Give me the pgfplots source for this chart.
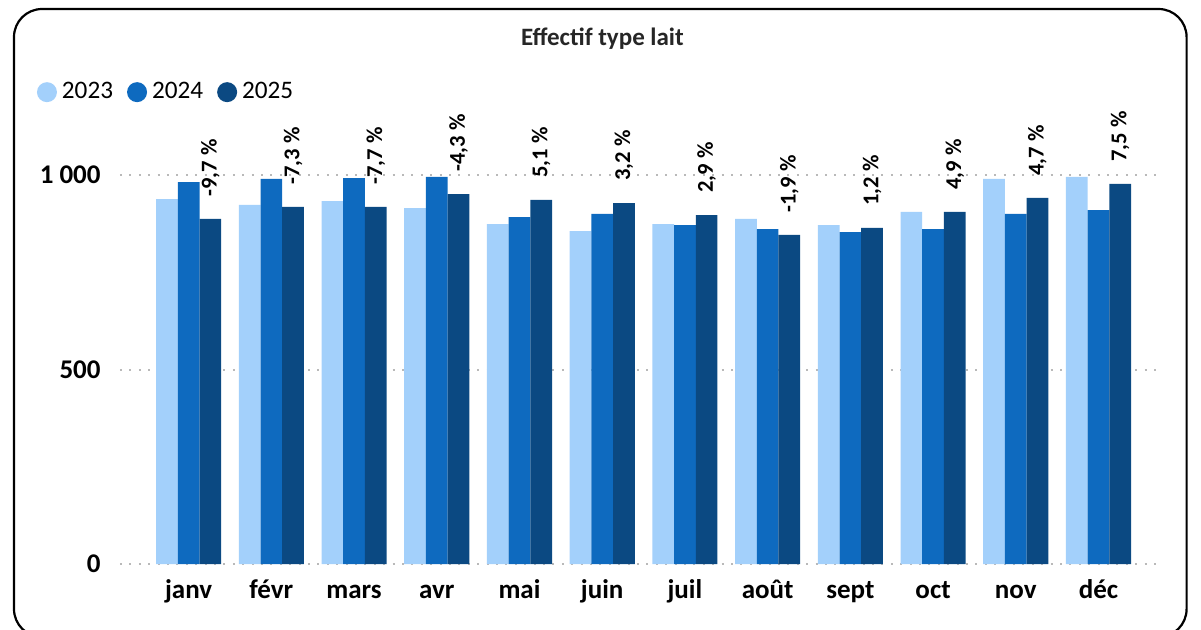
\documentclass[border=0pt]{standalone}
\usepackage{pgfplots}
\usepackage{pgfplotstable}
\pgfplotsset{compat=1.18}
\usepackage{fontspec}
\setmainfont{Carlito}
\definecolor{c23}{RGB}{163,208,251}
\definecolor{c24}{RGB}{14,106,191}
\definecolor{c25}{RGB}{11,73,130}
\pgfplotstableread{
x a b c lab
0 938 982 887 -9,7
1 923 990 918 -7,3
2 933 992 918 -7,7
3 915 995 951 -4,3
4 874 892 936 5,1
5 856 900 928 3,2
6 874 871 897 2,9
7 887 861 846 -1,9
8 871 853 864 1,2
9 905 861 905 4,9
10 990 900 941 4,7
11 995 910 977 7,5
}\datatable
\begin{document}
\begin{tikzpicture}
\path[use as bounding box] (0,0) rectangle (600.5pt,-314.5pt);
\draw[line width=1.1pt, rounded corners=14pt] (7pt,-4.5pt) rectangle (593.3pt,-318.5pt);
\node[font=\bfseries\fontsize{12.5}{14}\selectfont, text=black!85, anchor=base] at (301.2pt,-22.5pt) {Effectif type lait};
\begin{axis}[
  at={(60pt,-282pt)}, anchor=south west,
  scale only axis, width=521.5pt, height=194.5pt,
  xmin=-0.83, xmax=11.78, ymin=0, ymax=1000,
  clip=false,
  ybar=0pt, bar width=10.85pt,
  axis line style={draw=none}, tick style={draw=none},
  xtick={0,...,11},
  xticklabels={janv,févr,mars,avr,mai,juin,juil,août,sept,oct,nov,déc},
  ytick={0,500,1000}, yticklabels={0,500,{1 000}},
  ymajorgrids, major grid style={draw=gray!55, line width=1pt, dash pattern=on 1pt off 3.7pt},
  xticklabel style={font=\bfseries\fontsize{13.5}{15}\selectfont, anchor=base, inner sep=0pt, yshift=-13pt},
  yticklabel style={font=\bfseries\fontsize{13.5}{15}\selectfont, anchor=east, inner sep=0pt, xshift=-9.5pt},
  legend style={at={(rel axis cs:-0.0796,1.213)}, anchor=west, draw=none, fill=none,
    inner sep=0pt, outer sep=0pt, font=\fontsize{12.6}{14}\selectfont,
    nodes={inner sep=0pt},
    /tikz/every odd column/.append style={column sep=2.5pt},
    /tikz/every even column/.append style={column sep=7pt}},
  legend columns=3,
  legend image code/.code={\fill (5pt,0pt) circle (5pt);},
]
\addplot[fill=c23, draw=none] table[x=x, y=a] {\datatable};
\addplot[fill=c24, draw=none] table[x=x, y=b] {\datatable};
\addplot[fill=c25, draw=none,
  point meta=explicit symbolic,
  nodes near coords={\pgfplotspointmeta~\%},
  every node near coord/.append style={font=\bfseries\fontsize{11.3}{13}\selectfont, text=black, rotate=90, anchor=west, inner xsep=11pt, inner ysep=0pt}
] table[x=x, y=c, meta=lab] {\datatable};
\legend{2023,2024,2025}
\end{axis}
\end{tikzpicture}
\end{document}
